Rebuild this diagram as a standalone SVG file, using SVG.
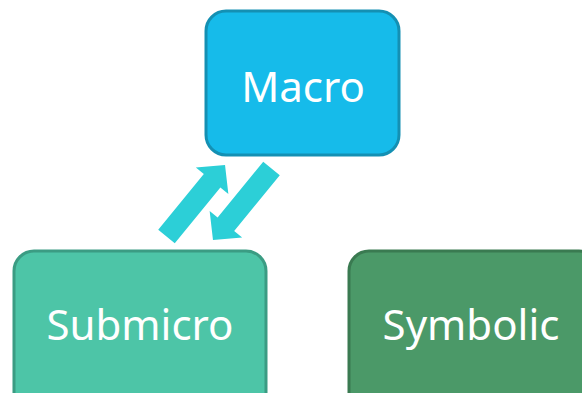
<svg xmlns="http://www.w3.org/2000/svg" width="582" height="393" viewBox="0 0 582 393">
  <style>
    .box { stroke-width: 3; }
    .label { font-family: "Noto Sans", "Open Sans", sans-serif; font-size: 42px; fill: #ffffff; text-anchor: middle; }
    .arrow { fill: #2ccfd7; }
  </style>
  <defs>
    <!-- block arrow pointing along +x, tail at origin -->
    <polygon id="blockArrow" points="0,-10.7 72,-10.7 72,-21 92.4,0 72,21 72,10.7 0,10.7"/>
  </defs>
  <rect width="582" height="393" fill="#ffffff"/>

  <g id="connectors">
    <use href="#blockArrow" class="arrow" transform="translate(166.5,236.5) rotate(-50.7)"/>
    <use href="#blockArrow" class="arrow" transform="translate(271.5,168.5) rotate(129.3)"/>
  </g>

  <g id="macro">
    <rect class="box" x="206" y="11" width="193" height="144" rx="20" fill="#16bbea" stroke="#1490b3"/>
    <text class="label" x="303" y="102">Macro</text>
  </g>

  <g id="submicro">
    <rect class="box" x="14" y="251" width="252" height="170" rx="20" fill="#4dc5a7" stroke="#3b9c83"/>
    <text class="label" x="140" y="340">Submicro</text>
  </g>

  <g id="symbolic">
    <rect class="box" x="349" y="251" width="250" height="170" rx="20" fill="#4b9968" stroke="#3a7a51"/>
    <text class="label" x="471" y="340">Symbolic</text>
  </g>
</svg>
